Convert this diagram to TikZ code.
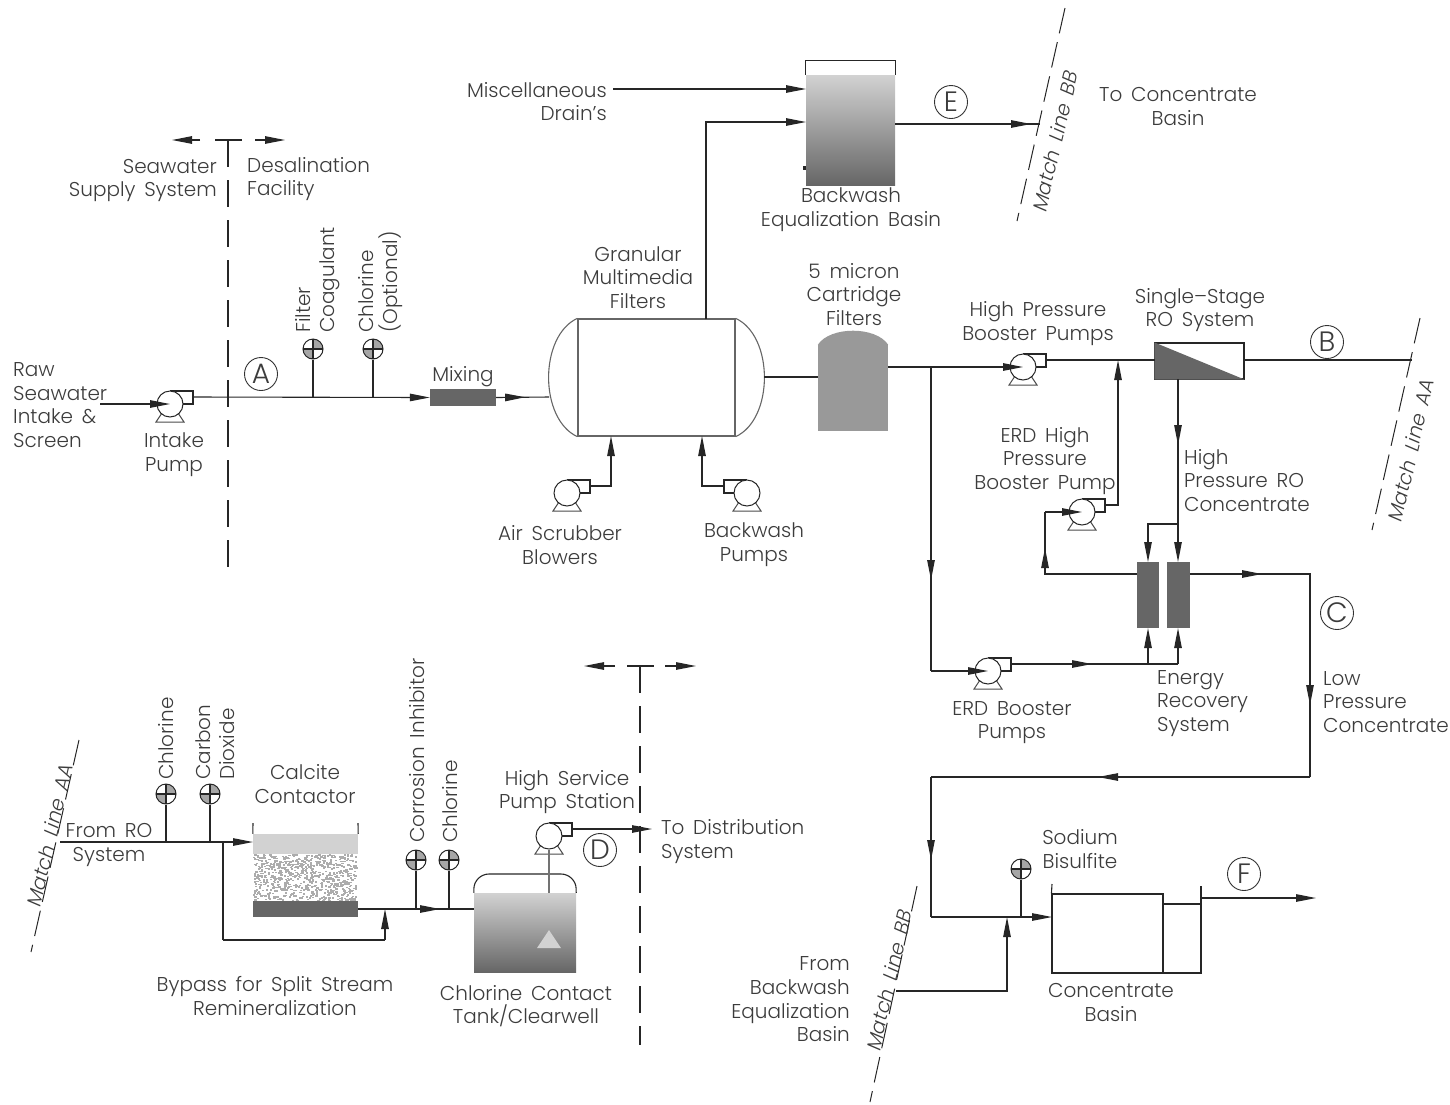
\documentclass[tikz,border=0pt]{standalone}
\usepackage{xcolor}
\usepackage{fontspec}
\setmainfont{Poppins}[UprightFont=* Light, ItalicFont=* Light Italic, WordSpace=1.6]
\usepackage{tikz}
\usetikzlibrary{shapes, arrows.meta, positioning, decorations.markings}

\definecolor{inkgray}{HTML}{3C3C3C}
\definecolor{lightfill}{HTML}{D2D2D2}
\definecolor{midfill}{HTML}{999999}
\definecolor{darkfill}{HTML}{666666}

\begin{document}
\begin{tikzpicture}[
  x=1pt, y=-1pt,
  pipe/.style={draw=black!85, line width=1.1pt},
  arrow/.style={pipe, -{Triangle[length=20pt,width=7.5pt]}},
  flow/.style={postaction={decorate, decoration={markings, mark=at position #1 with {\arrow{Triangle[length=20pt,width=7.5pt]}}}}},
  txt/.style={text=inkgray, font=\fontsize{20}{23.7}\selectfont, inner sep=0pt, align=center},
  ltxt/.style={txt, align=left, anchor=west},
  rtxt/.style={txt, align=right, anchor=east},
  vtxt/.style={txt, align=left, anchor=west, rotate=90},
  mtxt/.style={txt, font=\fontsize{20}{23.7}\itshape\selectfont, rotate=77},
  tag/.style={circle, draw=black!80, line width=0.9pt, minimum size=33pt, inner sep=0pt, text=inkgray, font=\fontsize{28}{28}\selectfont},
  section/.style={draw=black!85, line width=1.1pt, dash pattern=on 27pt off 13pt},
  matchline/.style={draw=black!85, line width=1pt, dash pattern=on 26pt off 9pt},
  vessel/.style={rectangle, inner sep=0pt, draw=none},
  pumpbody/.style={circle, draw=black!85, fill=white, line width=1pt, minimum size=26pt, inner sep=0pt},
  dosebody/.style={circle, draw=black!85, line width=1pt, minimum size=20pt, inner sep=0pt},
  pump/.pic={
    \draw[draw=black!70, fill=white, line width=1pt] (-8,9) -- (8,9) -- (14,18) -- (-14,18) -- cycle;
    \draw[pipe] (0,-13) -- (23,-13) -- (23,0) -- (10,0);
    \node[pumpbody] (-body) at (0,0) {};
    \coordinate (-in) at (0,0);
    \coordinate (-out) at (23,-7);
  },
  dose/.pic={
    \fill[gray!70] (0,0) -- (0,-10) arc[start angle=90, end angle=0, radius=10pt] -- cycle;
    \fill[gray!70] (0,0) -- (0,10) arc[start angle=270, end angle=180, radius=10pt] -- cycle;
    \node[dosebody] (-body) at (0,0) {};
    \draw[pipe] (-10,0) -- (10,0) (0,-10) -- (0,10);
  }
]
\useasboundingbox (0,0) rectangle (1450,1104);

% Section lines
\coordinate (seca) at (228,140);
\coordinate (secaend) at (228,568);
\draw[section] (seca) -- (secaend);
\coordinate (secal) at (215,140);
\coordinate (secar) at (242,140);
\draw[pipe] (secal) -- (secar);
\coordinate (secalf) at (200,140);
\coordinate (secalt) at (172,140);
\coordinate (secarf) at (255,140);
\coordinate (secart) at (285,140);
\draw[arrow] (secalf) -- (secalt);
\draw[arrow] (secarf) -- (secart);
\coordinate (secb) at (640,666);
\coordinate (secbend) at (640,1045);
\draw[section] (secb) -- (secbend);
\coordinate (secbl) at (627,666);
\coordinate (secbr) at (654,666);
\draw[pipe] (secbl) -- (secbr);
\coordinate (secblf) at (615,666);
\coordinate (secblt) at (584,666);
\coordinate (secbrf) at (665,666);
\coordinate (secbrt) at (696,666);
\draw[arrow] (secblf) -- (secblt);
\draw[arrow] (secbrf) -- (secbrt);
\node[rtxt] (seawater) at (217,180.5) {Seawater\\Supply System};
\node[ltxt] (facility) at (247,179) {Desalination\\Facility};

% Match lines
\coordinate (mbbt) at (1065,8);
\coordinate (mbbb) at (1017,221);
\draw[matchline] (mbbt) -- (mbbb);
\coordinate (maat) at (1420,318);
\coordinate (maab) at (1372,530);
\draw[matchline] (maat) -- (maab);
\coordinate (mabt) at (79,740);
\coordinate (mabb) at (31,952);
\draw[matchline] (mabt) -- (mabb);
\coordinate (mcbt) at (917,886);
\coordinate (mcbb) at (870,1102);
\draw[matchline] (mcbt) -- (mcbb);
\node[mtxt] (mbbtext) at (1055,141) {Match Line BB};
\node[mtxt] (maatext) at (1411,450) {Match Line AA};
\node[mtxt] (mabtext) at (50,835) {Match Line AA};
\node[mtxt] (mcbtext) at (889,980) {Match Line BB};

% Intake and mixing
\node[ltxt] (raw) at (13,405) {Raw\\Seawater\\Intake \&\\Screen};
\pic (intake) at (170,404) {pump};
\node[txt] (intaketext) at (174,455) {Intake\\Pump};
\coordinate (rawin) at (100,404);
\draw[arrow] (rawin) -- (intake-in);
\node[vessel, fill=darkfill, minimum width=66pt, minimum height=17pt] (mixer) at (463,397.5) {};
\node[txt] (mixtext) at (463,376.5) {Mixing};
\coordinate (jcoag) at (313,397);
\coordinate (jchlor) at (373,397);
\draw[arrow] (intake-out) -- (mixer.west);
\pic (dcoag) at (313,349) {dose};
\pic (dchlor) at (373,349) {dose};
\draw[pipe] (dcoag-body.south) -- (jcoag);
\draw[pipe] (dchlor-body.south) -- (jchlor);
\node[vtxt] (coagtext) at (317.5,333) {Filter\\Coagulant};
\node[vtxt] (chlortext) at (380.5,333) {Chlorine\\(Optional)};
\node[tag] (taga) at (261,374) {A};

% Granular filters
\node[vessel, draw=black!60, line width=1.3pt, minimum width=157pt, minimum height=117pt] (gmf) at (656.5,377.5) {};
\draw[draw=black!60, line width=1.1pt] (gmf.north west) .. controls (539,336) and (539,419) .. (gmf.south west);
\draw[draw=black!60, line width=1.1pt] (gmf.north east) .. controls (774,336) and (774,419) .. (gmf.south east);
\coordinate (gmfin) at (549,397);
\draw[pipe, flow=29pt] (mixer.east) -- (gmfin);
\node[txt] (gmftext) at (638,277.5) {Granular\\Multimedia\\Filters};
\pic (air) at (567,493) {pump};
\pic[xscale=-1] (bwp) at (747,493) {pump};
\coordinate (airtop) at (611,436);
\coordinate (bwptop) at (702,436);
\draw[arrow] (air-out) -| (airtop);
\draw[arrow] (bwp-out) -| (bwptop);
\node[txt] (airtext) at (560,545) {Air Scrubber\\Blowers};
\node[txt] (bwptext) at (754,545) {Backwash\\Pumps};

% Backwash basin
\node[vessel, top color=lightfill, bottom color=darkfill, minimum width=89pt, minimum height=110pt] (ebasin) at (850.5,130) {};
\draw[pipe] (ebasin.north west) -- ++(0,-14) -| (ebasin.north east);
\fill[black!85] (803,166) rectangle (806,170);
\coordinate (gmftop) at (706,319);
\coordinate (ebin) at (806,122);
\draw[arrow] (gmftop) |- (ebin);
\node[rtxt] (misc) at (607,101.5) {Miscellaneous\\Drain's};
\coordinate (miscout) at (613,89);
\coordinate (miscin) at (806,89);
\draw[arrow] (miscout) -- (miscin);
\coordinate (ebout) at (895,124);
\coordinate (ebend) at (1040,124);
\draw[pipe, flow=136pt] (ebout) -- (ebend);
\node[tag] (tage) at (951,102) {E};
\node[txt] (ebtext) at (851,210) {Backwash\\Equalization Basin};
\node[txt] (toconc) at (1178,106.5) {To Concentrate\\Basin};

% Cartridge filters and RO
\node[vessel, fill=midfill, minimum width=70pt, minimum height=86pt] (cart) at (853,388) {};
\fill[midfill] (cart.north west) .. controls (830,326) and (876,326) .. (cart.north east);
\coordinate (cartin) at (818,377);
\draw[pipe] (764,377) -- (cartin);
\node[txt] (carttext) at (854,294.5) {5 micron\\Cartridge\\Filters};
\pic (hpp) at (1023,367) {pump};
\coordinate (cartout) at (888,367);
\coordinate (jerd) at (931,367);
\draw[arrow] (cartout) -- (hpp-in);
\node[txt] (hpptext) at (1038,323.5) {High Pressure\\Booster Pumps};
\node[vessel, draw=black!85, line width=1.1pt, minimum width=89pt, minimum height=36pt] (ro) at (1199.5,361) {};
\fill[darkfill] (ro.north west) -- (ro.south east) -- (ro.south west) -- cycle;
\node[txt] (rotext) at (1200,310) {Single--Stage\\RO System};
\coordinate (roin) at (1155,360);
\coordinate (roout) at (1244,360);
\coordinate (jhp) at (1118,360);
\coordinate (aaend) at (1412,360);
\draw[pipe] (hpp-out) -- (roin);
\draw[pipe] (roout) -- (aaend);
\node[tag] (tagb) at (1327,342) {B};

% Energy recovery
\node[vessel, fill=darkfill, minimum width=22pt, minimum height=66pt] (erda) at (1148,595) {};
\node[vessel, fill=darkfill, minimum width=23pt, minimum height=66pt] (erdb) at (1178.5,595) {};
\coordinate (rodown) at (1178,379);
\coordinate (jconc) at (1178,524);
\coordinate (erdain) at (1148,562);
\coordinate (erdbin) at (1178,562);
\draw[pipe, flow=66pt] (rodown) -- (jconc);
\draw[arrow] (jconc) -- (erdbin);
\draw[arrow] (jconc) -| (erdain);
\pic (ehp) at (1082,512) {pump};
\coordinate (erdaout) at (1137,574);
\coordinate (suct) at (1045,512);
\draw[pipe, flow=118pt] (erdaout) -| (suct);
\draw[arrow] (suct) -- (ehp-in);
\draw[arrow] (ehp-out) -| (jhp);
\node[txt] (ehptext) at (1045,461) {ERD High\\Pressure\\Booster Pump};
\node[ltxt] (conctext) at (1184,480.5) {High\\Pressure RO\\Concentrate};
\pic (ebp) at (988,671) {pump};
\coordinate (jerda) at (1148,664);
\coordinate (jerdb) at (1178,664);
\coordinate (erdaup) at (1148,628);
\coordinate (erdbup) at (1178,628);
\coordinate (ebpturn) at (931,671);
\draw[pipe, flow=213pt] (jerd) -- (ebpturn);
\draw[arrow] (ebpturn) -- (ebp-in);
\draw[pipe, flow=81pt] (ebp-out) -- (jerdb);
\draw[arrow] (jerda) -- (erdaup);
\draw[arrow] (jerdb) -- (erdbup);
\node[txt] (ebptext) at (1012,722.5) {ERD Booster\\Pumps};
\node[ltxt] (erstext) at (1157,703.5) {Energy\\Recovery\\System};

% Low pressure concentrate
\coordinate (erdbout) at (1190,574);
\coordinate (lpturn) at (1310,574);
\coordinate (lpbot) at (1310,777);
\coordinate (lpleft) at (931,777);
\coordinate (cbin) at (1052,917);
\coordinate (lpdown) at (931,917);
\draw[pipe, flow=72pt, flow=251pt] (erdbout) -| (lpbot);
\draw[pipe, flow=212pt] (lpbot) -- (lpleft);
\draw[pipe, flow=83pt] (lpleft) -- (lpdown);
\draw[arrow] (lpdown) -- (cbin);
\node[tag] (tagc) at (1337,613) {C};
\node[ltxt] (lptext) at (1323,702) {Low\\Pressure\\Concentrate};

% Concentrate basin
\node[vessel, draw=black!85, line width=1.1pt, minimum width=111pt, minimum height=79pt] (cb) at (1107.5,933.5) {};
\coordinate (cbwall) at (1052,884);
\coordinate (cbwt) at (1163,904);
\coordinate (cbwr) at (1201,904);
\coordinate (cbtop) at (1201,886);
\coordinate (cbbot) at (1201,973);
\coordinate (cblow) at (1163,973);
\coordinate (cbout) at (1316,898);
\coordinate (cboutl) at (1201,898);
\draw[pipe] (cb.north west) -- (cbwall);
\draw[pipe] (cbwt) -- (cbwr);
\draw[pipe] (cbtop) -- (cbbot) -- (cblow);
\draw[arrow] (cboutl) -- (cbout);
\node[tag] (tagf) at (1244,874) {F};
\node[txt] (cbtext) at (1111,1002.5) {Concentrate\\Basin};
\pic (dbis) at (1021,869) {dose};
\coordinate (jbis) at (1021,917);
\draw[pipe] (dbis-body.south) -- (jbis);
\node[txt] (bistext) at (1080,849) {Sodium\\Bisulfite};
\coordinate (bbin) at (896,991);
\coordinate (jbb) at (1007,917);
\draw[arrow] (bbin) -| (jbb);
\node[rtxt] (bbtext) at (850,999.5) {From\\Backwash\\Equalization\\Basin};

% Remineralization
\node[txt] (fromro) at (109,845) {From RO\\System};
\coordinate (roline) at (60,842);
\coordinate (ccin) at (253,842);
\coordinate (jbyp) at (223,842);
\coordinate (jcl) at (166,842);
\coordinate (jco) at (210,842);
\draw[arrow] (roline) -- (ccin);
\pic (dcl) at (166,794) {dose};
\pic (dco) at (210,794) {dose};
\draw[pipe] (dcl-body.south) -- (jcl);
\draw[pipe] (dco-body.south) -- (jco);
\node[vtxt] (cltext) at (166.5,780) {Chlorine};
\node[vtxt] (cotext) at (215.5,780) {Carbon\\Dioxide};
\node[vessel, fill=white, minimum width=105pt, minimum height=47pt] (media) at (305.5,877.5) {};
\pgfmathsetseed{11}
\foreach \i in {1,...,800}{
  \pgfmathsetmacro{\sx}{253+rnd*103}
  \pgfmathsetmacro{\sy}{854+rnd*46}
  \fill[gray!65] (\sx,\sy) rectangle ++(2.2,1.5);
}
\node[vessel, fill=lightfill, minimum width=105pt, minimum height=20pt] (water) at (305.5,844) {};
\node[vessel, fill=darkfill, minimum width=105pt, minimum height=16pt] (under) at (305.5,909) {};
\coordinate (wallat) at (253,823);
\coordinate (wallbt) at (358,823);
\draw[pipe] (wallat) -- (water.north west);
\draw[pipe] (wallbt) -- (water.north east);
\node[txt] (cctext) at (305,784) {Calcite\\Contactor};
\coordinate (ccout) at (358,909);
\coordinate (tkin) at (474,909);
\coordinate (jbret) at (385,909);
\coordinate (jci) at (416,909);
\coordinate (jcl2) at (449,909);
\coordinate (bypturn) at (223,940);
\coordinate (bypend) at (385,940);
\draw[pipe] (jbyp) -- (bypturn);
\draw[pipe] (bypturn) -- (bypend);
\draw[arrow] (bypend) -- (jbret);
\draw[pipe, flow=82pt] (ccout) -- (tkin);
\pic (dci) at (416,860) {dose};
\pic (dcl2) at (449,860) {dose};
\draw[pipe] (dci-body.south) -- (jci);
\draw[pipe] (dcl2-body.south) -- (jcl2);
\node[vtxt] (citext) at (417.5,843) {Corrosion Inhibitor};
\node[vtxt] (cl2text) at (450.5,843) {Chlorine};
\node[txt] (byptext) at (275,996) {Bypass for Split Stream\\Remineralization};

% Clearwell and distribution
\node[vessel, top color=lightfill, bottom color=darkfill, minimum width=102pt, minimum height=79pt] (tank) at (525,932.5) {};
\draw[pipe, rounded corners=15pt] (tank.north west) -- (474,874) -- (576,874) -- (tank.north east);
\fill[lightfill] (549,930) -- (561,948) -- (537,948) -- cycle;
\pic (hsp) at (549,836) {pump};
\coordinate (tanktop) at (549,893);
\draw[draw=black!55, line width=1.1pt] (hsp-body.south) -- (tanktop);
\coordinate (distout) at (652,829);
\draw[arrow] (hsp-out) -- (distout);
\node[tag] (tagd) at (600,850) {D};
\node[txt] (hsptext) at (567,792) {High Service\\Pump Station};
\node[ltxt] (disttext) at (661,841.5) {To Distribution\\System};
\node[txt] (tanktext) at (526,1006) {Chlorine Contact\\Tank/Clearwell};

\end{tikzpicture}
\end{document}
